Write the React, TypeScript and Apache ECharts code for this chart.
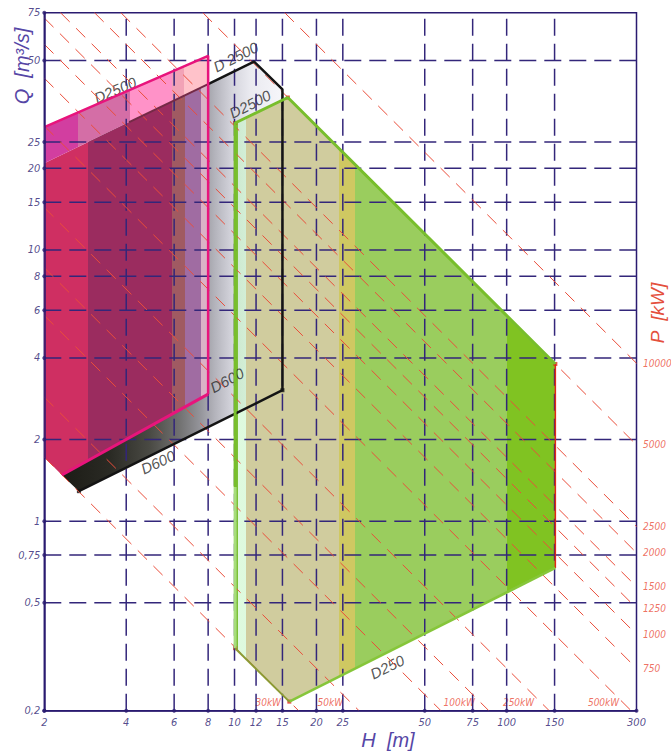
import React, { useEffect, useRef } from 'react';
import * as echarts from 'echarts';

// ---------- axes ----------
const H_MIN = 2;
const H_MAX = 300;
const Q_MIN = 0.2;
const Q_MAX = 75;

const xTickValues = [2, 4, 6, 8, 10, 12, 15, 20, 25, 50, 75, 100, 150, 300];
const xTickLabels = ['2', '4', '6', '8', '10', '12', '15', '20', '25', '50', '75', '100', '150', '300'];
const yTickValues = [0.2, 0.5, 0.75, 1, 2, 4, 6, 8, 10, 15, 20, 25, 50, 75];
const yTickLabels = ['0,2', '0,5', '0,75', '1', '2', '4', '6', '8', '10', '15', '20', '25', '50', '75'];
const xGridValues = [4, 6, 8, 10, 12, 15, 20, 25, 50, 75, 100, 150];
const yGridValues = [0.5, 0.75, 1, 2, 4, 6, 8, 10, 15, 20, 25, 50];

// ---------- power lines (P = k * Q * H) ----------
const POWER_FACTOR = 8.72;
const powerLines = [30, 50, 100, 150, 250, 500, 750, 1000, 1250, 1500, 2000, 2500, 5000, 10000];
const rightPowerLabels = [750, 1000, 1250, 1500, 2000, 2500, 5000, 10000];
const bottomPowerLabels = ['30kW', '50kW', '100kW', '250kW', '500kW'];
const bottomPowerLabelH = [13.3, 22.5, 66.9, 110.6, 227];

// ---------- application ranges (H, Q) ----------
const pinkUpper = [[2, 28.4], [8, 52], [8, 40.9], [2, 20.9]];
const pinkLower = [[2, 20.9], [8, 40.9], [8, 2.94], [2.32, 1.48], [2, 1.72]];
const grayBody = [[2.89, 25.0], [11.8, 49.5], [15, 39.1], [15, 3.04], [2.68, 1.29], [2.32, 1.48], [2.89, 1.67]];
const greenBody = [[10.05, 29.4], [15.7, 36.5], [151, 3.8], [151, 0.672], [15.9, 0.216], [10.05, 0.34]];

const pinkOutline = [[8, 2.94], [8, 52], [2, 28.4]];
const pinkD600 = [[8, 2.94], [2.32, 1.48]];
const blackOutline = [[8, 40.9], [11.8, 49.5], [15, 39.1], [15, 3.04], [2.68, 1.29]];
const blackHidden = [[4.1, 29.6], [8, 40.9]];
const greenUpperEdge = [[10.05, 1.336], [10.05, 29.4], [15.7, 36.5], [151, 3.8]];
const greenLowerLeft = [[10.05, 1.336], [10.05, 0.34]];
const greenRightEdge = [[151, 3.8], [151, 0.672]];
const greenBottomEdge = [[151, 0.672], [15.9, 0.216]];
const greenDiagEdge = [[15.9, 0.216], [10.05, 0.34]];
const redCorners = [[10.05, 29.4], [15.7, 36.5], [151, 3.8], [15.9, 0.216], [10.05, 0.34]];
const blackCorners = [[15, 3.04], [2.68, 1.29]];

const shapeLabels = ['D2500', 'D 2500', 'D2500', 'D600', 'D600', 'D250'];
const shapeLabelAnchors = [[3.64, 38.9], [10.1, 51.5], [11.4, 34.5], [9.38, 3.31], [5.23, 1.65], [36.4, 0.29]];
const shapeLabelAngles = [23, 27, 27, 28, 25, 26];

// colour bands (start H, colour)
const pinkUpperBands: [number, string][] = [[2, '#d23ea0'], [2.66, '#d46ea6'], [4.13, '#ff92c8'], [5.89, '#f2a2b6'], [6.52, '#ffc2ca']];
const pinkLowerBands: [number, string][] = [[2, '#cf2f62'], [2.89, '#9b2c5f'], [5.89, '#a05a62'], [6.59, '#a06ca2'], [7.53, '#dab2c6']];
const grayStops: [number, string][] = [[2.32, '#1c1c16'], [3.49, '#2a2a24'], [4.89, '#4a4a44'], [6.3, '#727272'], [7.47, '#94949a'], [8.48, '#b4b4bc'], [9.79, '#d4d4dc'], [11.4, '#eaeaf0'], [15, '#f6f6fa']];
const greenBands: [number, string][] = [[10.05, '#7cc036'], [10.3, 'rgba(196,246,196,0.55)'], [11.0, '#d0cc9e'], [24.3, '#cfc862'], [27.7, '#9acd5e'], [100, '#80c322']];

const NAVY = '#2a1b70';
const GRID_NAVY = '#33267a';
const RED = '#ea4d3a';
const FONT = "'Liberation Sans Narrow', 'DejaVu Sans Condensed', 'Liberation Sans', sans-serif";

const lg = (v: number) => Math.log10(v);
const clamp01 = (v: number) => Math.max(0, Math.min(1, v));

function hExtent(poly: number[][]) {
  const hs = poly.map((p) => p[0]);
  return [lg(Math.min(...hs)), lg(Math.max(...hs))];
}

function bandGradient(poly: number[][], bands: [number, string][]) {
  const [lo, hi] = hExtent(poly);
  const stops: { offset: number; color: string }[] = [];
  bands.forEach((b, i) => {
    const s = i === 0 ? 0 : clamp01((lg(b[0]) - lo) / (hi - lo));
    const e = i === bands.length - 1 ? 1 : clamp01((lg(bands[i + 1][0]) - lo) / (hi - lo));
    stops.push({ offset: s, color: b[1] }, { offset: e, color: b[1] });
  });
  return new echarts.graphic.LinearGradient(0, 0, 1, 0, stops);
}

function smoothGradient(poly: number[][], st: [number, string][]) {
  const [lo, hi] = hExtent(poly);
  return new echarts.graphic.LinearGradient(
    0, 0, 1, 0,
    st.map((s) => ({ offset: clamp01((lg(s[0]) - lo) / (hi - lo)), color: s[1] }))
  );
}

function polygonSeries(poly: number[][], fill: any) {
  return {
    type: 'custom',
    silent: true,
    clip: true,
    data: [poly[0]],
    renderItem: (_params: any, api: any) => ({
      type: 'polygon',
      shape: { points: poly.map((p) => api.coord(p)) },
      style: { fill, stroke: null },
    }),
  };
}

function lineSeries(data: number[][], lineStyle: any) {
  return {
    type: 'line',
    data,
    symbol: 'none',
    silent: true,
    clip: true,
    lineStyle,
  };
}

export default function App() {
  const ref = useRef<HTMLDivElement>(null);

  useEffect(() => {
    if (!ref.current) return;
    const chart = echarts.init(ref.current, null, { renderer: 'svg' });

    const series: any[] = [];
    // fills
    series.push(polygonSeries(grayBody, smoothGradient(grayBody, grayStops)));
    series.push(polygonSeries(greenBody, bandGradient(greenBody, greenBands)));
    series.push(polygonSeries(pinkLower, bandGradient(pinkLower, pinkLowerBands)));
    series.push(polygonSeries(pinkUpper, bandGradient(pinkUpper, pinkUpperBands)));

    // grid lines
    xGridValues.forEach((v) =>
      series.push(lineSeries([[v, Q_MIN], [v, Q_MAX]], { color: GRID_NAVY, width: 1.5, type: [17, 8] }))
    );
    yGridValues.forEach((v) =>
      series.push(lineSeries([[H_MIN, v], [H_MAX, v]], { color: GRID_NAVY, width: 1.5, type: [17, 8] }))
    );

    // constant power lines
    powerLines.forEach((p) => {
      const c = p / POWER_FACTOR;
      const h1 = Math.max(H_MIN, c / Q_MAX);
      const h2 = Math.min(H_MAX, c / Q_MIN);
      series.push(lineSeries([[h1, c / h1], [h2, c / h2]], { color: RED, width: 1, type: [13, 9] }));
    });

    // outlines
    series.push(lineSeries(blackHidden, { color: '#742a46', width: 2 }));
    series.push(lineSeries(blackOutline, { color: '#141414', width: 2.5 }));
    series.push(lineSeries(pinkOutline, { color: '#e8147c', width: 2.5 }));
    series.push(lineSeries(pinkD600, { color: '#e8147c', width: 3 }));
    series.push(lineSeries(greenUpperEdge, { color: '#78be2c', width: 3 }));
    series.push(lineSeries(greenLowerLeft, { color: '#a6dc7c', width: 3 }));
    series.push(lineSeries(greenRightEdge, { color: '#e02818', width: 1.5 }));
    series.push(lineSeries(greenBottomEdge, { color: '#86c63a', width: 2.5 }));
    series.push(lineSeries(greenDiagEdge, { color: '#8c9a34', width: 2 }));

    // corner markers
    series.push({
      type: 'scatter', silent: true, clip: false, symbol: 'rect', symbolSize: 4,
      itemStyle: { color: '#e02818' }, data: redCorners,
    });
    series.push({
      type: 'scatter', silent: true, clip: false, symbol: 'rect', symbolSize: 4,
      itemStyle: { color: '#141414' }, data: blackCorners,
    });

    // shape labels
    series.push({
      type: 'scatter', silent: true, clip: false, symbolSize: 1,
      itemStyle: { color: 'rgba(0,0,0,0)' },
      data: shapeLabelAnchors,
      label: {
        show: true, position: 'inside',
        formatter: (p: any) => shapeLabels[p.dataIndex],
        color: '#2a2a2a', fontSize: 15, fontStyle: 'italic',
        fontFamily: "'Liberation Sans', sans-serif",
      },
      labelLayout: (p: any) => ({ rotate: shapeLabelAngles[p.dataIndex] }),
    });

    // axis tick dots and labels
    series.push({
      type: 'scatter', silent: true, clip: false, symbol: 'circle', symbolSize: 4,
      itemStyle: { color: NAVY }, data: xTickValues.map((v) => [v, Q_MIN]),
      label: {
        show: true, position: 'bottom', distance: 4,
        formatter: (p: any) => xTickLabels[p.dataIndex],
        color: NAVY, fontSize: 11, fontStyle: 'italic', fontFamily: FONT,
      },
    });
    series.push({
      type: 'scatter', silent: true, clip: false, symbol: 'circle', symbolSize: 4,
      itemStyle: { color: NAVY }, data: yTickValues.map((v) => [H_MIN, v]),
      label: {
        show: true, position: 'left', distance: 2,
        formatter: (p: any) => yTickLabels[p.dataIndex],
        color: NAVY, fontSize: 11, fontStyle: 'italic', fontFamily: FONT,
      },
    });

    // power labels on the right (where lines meet H = 300)
    series.push({
      type: 'scatter', silent: true, clip: false, symbolSize: 1,
      itemStyle: { color: 'rgba(0,0,0,0)' },
      data: rightPowerLabels.map((p) => [H_MAX, p / (POWER_FACTOR * H_MAX)]),
      label: {
        show: true, position: 'right', distance: 6,
        formatter: (p: any) => String(rightPowerLabels[p.dataIndex]),
        color: RED, fontSize: 10, fontStyle: 'italic', fontFamily: FONT,
      },
    });
    // power labels along the bottom
    series.push({
      type: 'scatter', silent: true, clip: false, symbolSize: 1,
      itemStyle: { color: 'rgba(0,0,0,0)' },
      data: bottomPowerLabelH.map((h) => [h, Q_MIN]),
      label: {
        show: true, position: 'top', distance: 3,
        formatter: (p: any) => bottomPowerLabels[p.dataIndex],
        color: RED, fontSize: 10, fontStyle: 'italic', fontFamily: FONT,
      },
    });

    const option: any = {
      animation: false,
      backgroundColor: '#ffffff',
      grid: {
        left: 44.3, top: 12.7, right: 34.5, bottom: 41.3,
        show: true, borderColor: NAVY, borderWidth: 1.5, backgroundColor: 'rgba(0,0,0,0)',
      },
      xAxis: {
        type: 'log', logBase: 10, min: H_MIN, max: H_MAX, z: 10,
        axisLine: { show: true, lineStyle: { color: NAVY, width: 1.5 } },
        axisTick: { show: false }, axisLabel: { show: false }, splitLine: { show: false },
      },
      yAxis: {
        type: 'log', logBase: 10, min: Q_MIN, max: Q_MAX, z: 10,
        axisLine: { show: true, lineStyle: { color: NAVY, width: 1.5 } },
        axisTick: { show: false }, axisLabel: { show: false }, splitLine: { show: false },
      },
      graphic: [
        {
          type: 'text', x: 388, y: 740, z: 100,
          style: {
            text: 'H  [m]', fill: '#5646a6', fontSize: 20, fontStyle: 'italic',
            fontFamily: "'Liberation Sans', sans-serif",
            align: 'center', verticalAlign: 'middle', textAlign: 'center', textVerticalAlign: 'middle',
          },
        },
        {
          type: 'text', x: 22, y: 66, rotation: Math.PI / 2, z: 100,
          style: {
            text: 'Q  [m³/s]', fill: '#5646a6', fontSize: 20, fontStyle: 'italic',
            fontFamily: "'Liberation Sans', sans-serif",
            align: 'center', verticalAlign: 'middle', textAlign: 'center', textVerticalAlign: 'middle',
          },
        },
        {
          type: 'text', x: 657, y: 313, rotation: Math.PI / 2, z: 100,
          style: {
            text: 'P  [kW]', fill: '#e4503c', fontSize: 19, fontStyle: 'italic',
            fontFamily: "'Liberation Sans', sans-serif",
            align: 'center', verticalAlign: 'middle', textAlign: 'center', textVerticalAlign: 'middle',
          },
        },
      ],
      series,
    };

    chart.setOption(option);
    return () => chart.dispose();
  }, []);

  return (
    <div
      ref={ref}
      style={{ position: 'absolute', left: 0, top: 0, width: 671, height: 752, background: '#fff' }}
    />
  );
}
